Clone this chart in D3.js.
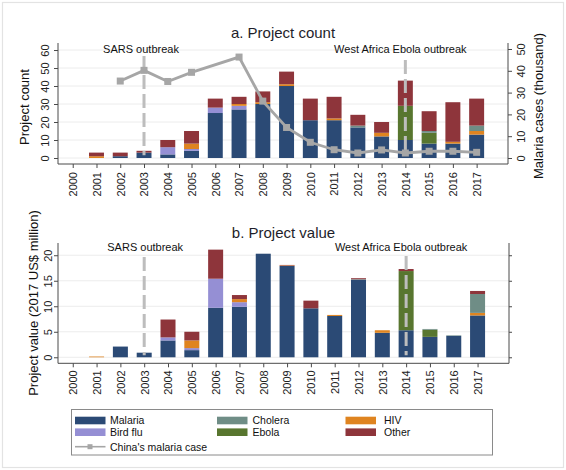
<!DOCTYPE html>
<html><head><meta charset="utf-8">
<script src="https://cdn.jsdelivr.net/npm/d3@7/dist/d3.min.js"></script>
<style>
html,body{margin:0;padding:0;background:#fff;}
svg{display:block;font-family:"Liberation Sans",Arial,Helvetica,sans-serif;}
</style></head>
<body>
<svg id="c" width="566" height="470"></svg>
<script>
// ---------- DATA ----------
const years = [2000,2001,2002,2003,2004,2005,2006,2007,2008,2009,2010,2011,2012,2013,2014,2015,2016,2017];
const seriesNames = ["Malaria","Bird flu","Ebola","HIV","Cholera","Other"];
// Project count by category
const countMalaria = [0,0,1,3,2,4,25,27,30,40,21,21,17,12,10,8,8,13];
const countBirdFlu = [0,0,0,0,4,1,3,2,0,0,0,0,0,0,0,0,0,0];
const countEbola   = [0,0,0,0,0,0,0,0,0,0,0,0,0,0,19,6,0,0];
const countHIV     = [0,1,0,0,0,3,0,1,1,1,0,1,0,2,0,0,1,2];
const countCholera = [0,0,0,0,0,0,0,0,0,0,0,0,1,0,0,1,0,3];
const countOther   = [0,2,2,1,4,7,5,4,6,7,12,12,6,6,14,11,22,15];
// Project value (2017 US$ million) by category
const valMalaria = [0,0,2.1,0.9,3.3,1.4,9.7,9.9,20.3,17.9,9.6,8.1,15.2,4.8,5.3,4.0,4.2,8.2];
const valBirdFlu = [0,0,0,0,0.6,0.4,5.7,0.9,0,0,0,0,0,0,0,0,0,0];
const valEbola   = [0,0,0,0,0,0,0,0,0,0,0,0,0,0,11.6,1.4,0,0];
const valHIV     = [0,0.15,0,0,0,1.5,0,0.6,0,0.1,0,0.2,0,0.5,0,0,0,0.5];
const valCholera = [0,0,0,0,0,0,0,0,0,0,0,0,0.1,0,0,0.15,0.1,3.7];
const valOther   = [0,0,0,0,3.5,1.7,5.7,0.8,0,0.1,1.5,0,0.2,0,0.4,0,0,0.6];
// China's malaria cases (thousand); 2000, 2001, 2006 not shown
const malariaCases = [null,null,35.3,40.2,35.1,39.3,null,46.3,26.1,14.0,7.2,3.8,2.3,3.7,2.3,3.1,3.1,2.6];
// Ticks
const countTicks = [0,10,20,30,40,50,60];
const casesTicks = [0,10,20,30,40,50];
const valueTicks = [0,5,10,15,20];
// Events
const events = [{year:2003,label:"SARS outbreak"},{year:2014,label:"West Africa Ebola outbreak"}];

// ---------- STYLE ----------
const colors = {"Malaria":"#2b4a75","Bird flu":"#958fd4","Cholera":"#6f8d86","Ebola":"#58762f","HIV":"#df8420","Other":"#8e353b"};
const lineColor = "#a6a6a6";
const axisColor = "#4a4a4a";
const gridColor = "#ececec";

const svg = d3.select("#c");
// outer frame
svg.append("rect").attr("x",2.5).attr("y",2.5).attr("width",561).attr("height",465)
  .attr("fill","#fff").attr("stroke","#e3e3e3").attr("stroke-width",1.2);

function buildRows(arrs){
  return years.map((y,i)=>{
    const r={year:y};
    seriesNames.forEach(n=>r[n]=arrs[n][i]);
    return r;
  });
}
const countRows = buildRows({"Malaria":countMalaria,"Bird flu":countBirdFlu,"Ebola":countEbola,"HIV":countHIV,"Cholera":countCholera,"Other":countOther});
const valueRows = buildRows({"Malaria":valMalaria,"Bird flu":valBirdFlu,"Ebola":valEbola,"HIV":valHIV,"Cholera":valCholera,"Other":valOther});
const stack = d3.stack().keys(seriesNames);

function panel(opt){
  const g = svg.append("g");
  const x = d3.scaleLinear().domain([1999.38,2018.32]).range([opt.left,opt.right]);
  const y = d3.scaleLinear().domain(opt.yDomain).range([opt.bottom,opt.top]);
  const bw = 0.63*(x(2001)-x(2000));

  // gridlines
  g.append("g").selectAll("line").data(opt.yTicks).join("line")
    .attr("x1",opt.left).attr("x2",opt.right)
    .attr("y1",d=>y(d)).attr("y2",d=>y(d))
    .attr("stroke",gridColor).attr("stroke-width",1);

  // bars
  const st = stack(opt.rows);
  g.append("g").selectAll("g").data(st).join("g")
    .attr("fill",d=>colors[d.key])
    .selectAll("rect").data(d=>d.filter(s=>s[1]-s[0]>0)).join("rect")
    .attr("x",d=>x(d.data.year)-bw/2).attr("width",bw)
    .attr("y",d=>y(d[1])).attr("height",d=>y(d[0])-y(d[1]));

  // left axis
  const la = g.append("g").attr("transform",`translate(${opt.left},0)`)
    .call(d3.axisLeft(y).tickValues(opt.yTicks).tickSize(4).tickSizeOuter(0));
  la.select(".domain").attr("d",`M0,${opt.top}V${opt.bottom}`);
  la.selectAll("line").attr("stroke",axisColor);
  la.select(".domain").attr("stroke",axisColor);
  la.selectAll("text").attr("x",null).attr("dy",null).attr("text-anchor","middle")
    .attr("transform",`translate(${opt.yLabOff},0) rotate(-90)`)
    .attr("font-size",11).attr("fill","#222").attr("font-family","Liberation Sans, Arial, sans-serif");

  // bottom axis
  const ba = g.append("g").attr("transform",`translate(0,${opt.bottom})`)
    .call(d3.axisBottom(x).tickValues(years).tickFormat(d3.format("d")).tickSize(4).tickSizeOuter(0));
  ba.select(".domain").attr("d",`M${opt.left},0H${opt.right}`).attr("stroke",axisColor);
  ba.selectAll("line").attr("stroke",axisColor);
  ba.selectAll("text").attr("y",null).attr("dy","0.35em").attr("text-anchor","end")
    .attr("transform",`translate(0,${opt.xLabOff}) rotate(-90)`)
    .attr("font-size",11).attr("fill","#222").attr("font-family","Liberation Sans, Arial, sans-serif");

  // title
  g.append("text").attr("x",(opt.left+opt.right)/2).attr("y",opt.titleY)
    .attr("text-anchor","middle").attr("font-size",15).attr("fill","#1e1e2a").text(opt.title);

  // y title
  g.append("text").attr("transform",`translate(${opt.yTitleX},${opt.yTitleY}) rotate(-90)`)
    .attr("text-anchor","middle").attr("font-size",13).attr("fill","#111").text(opt.yTitle);

  return {g,x,y};
}

// ---------- PANEL A ----------
const A = panel({left:58,right:508,top:43,bottom:164,yDomain:[-3.33,63.9],yTicks:countTicks,
  rows:countRows,yLabOff:-9,xLabOff:8,title:"a. Project count",titleY:38,
  yTitle:"Project count",yTitleX:29,yTitleY:107});

// right axis
const yR = d3.scaleLinear().domain([-2.75,52.75]).range([164,43]);
const ra = A.g.append("g").attr("transform","translate(508,0)")
  .call(d3.axisRight(yR).tickValues(casesTicks).tickSize(4).tickSizeOuter(0));
ra.select(".domain").attr("d","M0,43V164").attr("stroke",axisColor);
ra.selectAll("line").attr("stroke",axisColor);
ra.selectAll("text").attr("x",null).attr("dy",null).attr("text-anchor","middle")
  .attr("transform","translate(17,0) rotate(-90)")
  .attr("font-size",11).attr("fill","#222").attr("font-family","Liberation Sans, Arial, sans-serif");
A.g.append("text").attr("transform","translate(543,106) rotate(-90)")
  .attr("text-anchor","middle").attr("font-size",13).attr("fill","#111").text("Malaria cases (thousand)");

// events panel A
function drawEvents(P,yTopLine,yBottomVal,labelY,offsets){
  events.forEach((e,i)=>{
    P.g.append("line").attr("x1",P.x(e.year)).attr("x2",P.x(e.year))
      .attr("y1",yTopLine[i]).attr("y2",P.y(yBottomVal))
      .attr("stroke","#bdbdbd").attr("stroke-width",3).attr("stroke-dasharray","14,5");
    P.g.append("text").attr("x",P.x(e.year)+offsets[i]).attr("y",labelY)
      .attr("text-anchor","middle").attr("font-size",11).attr("fill","#111").text(e.label);
  });
}
drawEvents(A,[56,60],1.5,53,[-3,-5]);

// malaria line
const caseData = years.map((yr,i)=>({year:yr,v:malariaCases[i]})).filter(d=>d.v!==null);
A.g.append("path").datum(caseData)
  .attr("fill","none").attr("stroke",lineColor).attr("stroke-width",2.8)
  .attr("d",d3.line().x(d=>A.x(d.year)).y(d=>yR(d.v)));
A.g.append("g").selectAll("rect").data(caseData).join("rect")
  .attr("x",d=>A.x(d.year)-3.5).attr("y",d=>yR(d.v)-3.5).attr("width",7).attr("height",7)
  .attr("fill",lineColor);

// ---------- PANEL B ----------
const B = panel({left:58,right:509,top:243,bottom:363.3,yDomain:[-1.18,22.4],yTicks:valueTicks,
  rows:valueRows,yLabOff:-6,xLabOff:7,title:"b. Project value",titleY:238,
  yTitle:"Project value (2017 US$ million)",yTitleX:38,yTitleY:303});
// right frame line with ticks
const rb = B.g.append("g").attr("transform","translate(509,0)")
  .call(d3.axisRight(B.y).tickValues(valueTicks).tickSize(3).tickSizeOuter(0).tickFormat(""));
rb.select(".domain").attr("d","M0,243V363.3").attr("stroke",axisColor);
rb.selectAll("line").attr("stroke",axisColor);
drawEvents(B,[257,256],0.4,251,[1,-5]);

// ---------- LEGEND ----------
const lg = svg.append("g");
lg.append("rect").attr("x",71.5).attr("y",409.5).attr("width",421).attr("height",45.5)
  .attr("fill","#fff").attr("stroke","#8a8a8a").attr("stroke-width",1);
const legendItems = [
  {name:"Malaria",col:0,row:0},{name:"Bird flu",col:0,row:1},
  {name:"Cholera",col:1,row:0},{name:"Ebola",col:1,row:1},
  {name:"HIV",col:2,row:0},{name:"Other",col:2,row:1}];
const colX = [75,217,345.5];
const textX = [110,252.5,384];
const rowY = [420.5,432.2];
legendItems.forEach(it=>{
  lg.append("rect").attr("x",colX[it.col]).attr("y",rowY[it.row]-3.8).attr("width",30.5).attr("height",7.6)
    .attr("fill",colors[it.name]);
  lg.append("text").attr("x",textX[it.col]).attr("y",rowY[it.row]+3.8)
    .attr("font-size",10.5).attr("fill","#111").text(it.name);
});
lg.append("line").attr("x1",75).attr("x2",105.5).attr("y1",446.7).attr("y2",446.7)
  .attr("stroke",lineColor).attr("stroke-width",1.6);
lg.append("rect").attr("x",87.5).attr("y",444.2).attr("width",5).attr("height",5).attr("fill",lineColor);
lg.append("text").attr("x",110).attr("y",450.5).attr("font-size",10.5).attr("fill","#111").text("China's malaria case");
</script>
</body></html>
